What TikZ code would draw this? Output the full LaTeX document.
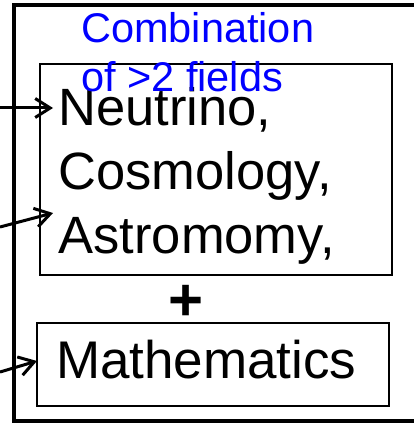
\documentclass[tikz,border=0pt]{standalone}
\usepackage{fontspec}
\setmainfont{Liberation Sans}
\usetikzlibrary{arrows.meta}

\begin{document}
\begin{tikzpicture}[>={Straight Barb[length=15pt,width=19pt]},x=1pt,y=-1pt]
  \tikzstyle{box}=[draw,line width=2pt,inner sep=0pt,outer sep=0pt,minimum width=352pt]
  \tikzstyle{big}=[font=\fontsize{52.5}{64}\selectfont,align=left,inner xsep=5.5pt,inner ysep=0pt,outer sep=0pt]
  \tikzstyle{feed}=[line width=3pt,->]
  \useasboundingbox (0,0) rectangle (413,425);
  % frame, open to the right
  \draw[line width=4pt] (415,5) -- (14,5) -- (14,421) -- (415,421);
  \node[box,minimum height=211pt] (fieldbox) at (216,169.5) {};
  \node[box,minimum height=83pt] (mathbox) at (213,364.5) {};
  \node[big,anchor=base west] (fields) at (53,253) {Neutrino,\\Cosmology,\\Astromomy,};
  \node[big,font=\fontsize{53}{64}\selectfont,anchor=base west,inner xsep=0pt] (maths) at (56,378) {Mathematics};
  \node[font=\fontsize{60}{60}\selectfont\bfseries] (plus) at (186,303) {+};
  % incoming arrows
  \coordinate (in1) at (0,108);
  \coordinate (in2) at (0,227);
  \coordinate (in3) at (0,372);
  \draw[feed] (in1) -- (fields.west |- in1);
  \draw[feed] (in2) -- (fields.west |- 0,213);
  \draw[feed] (in3) -- (mathbox.west |- 0,361);
  % title
  \node[text=blue,font=\fontsize{41.5}{49}\selectfont,align=left,anchor=base west,inner sep=0pt] (title) at (81,92) {Combination\\of >2 fields};
\end{tikzpicture}
\end{document}
